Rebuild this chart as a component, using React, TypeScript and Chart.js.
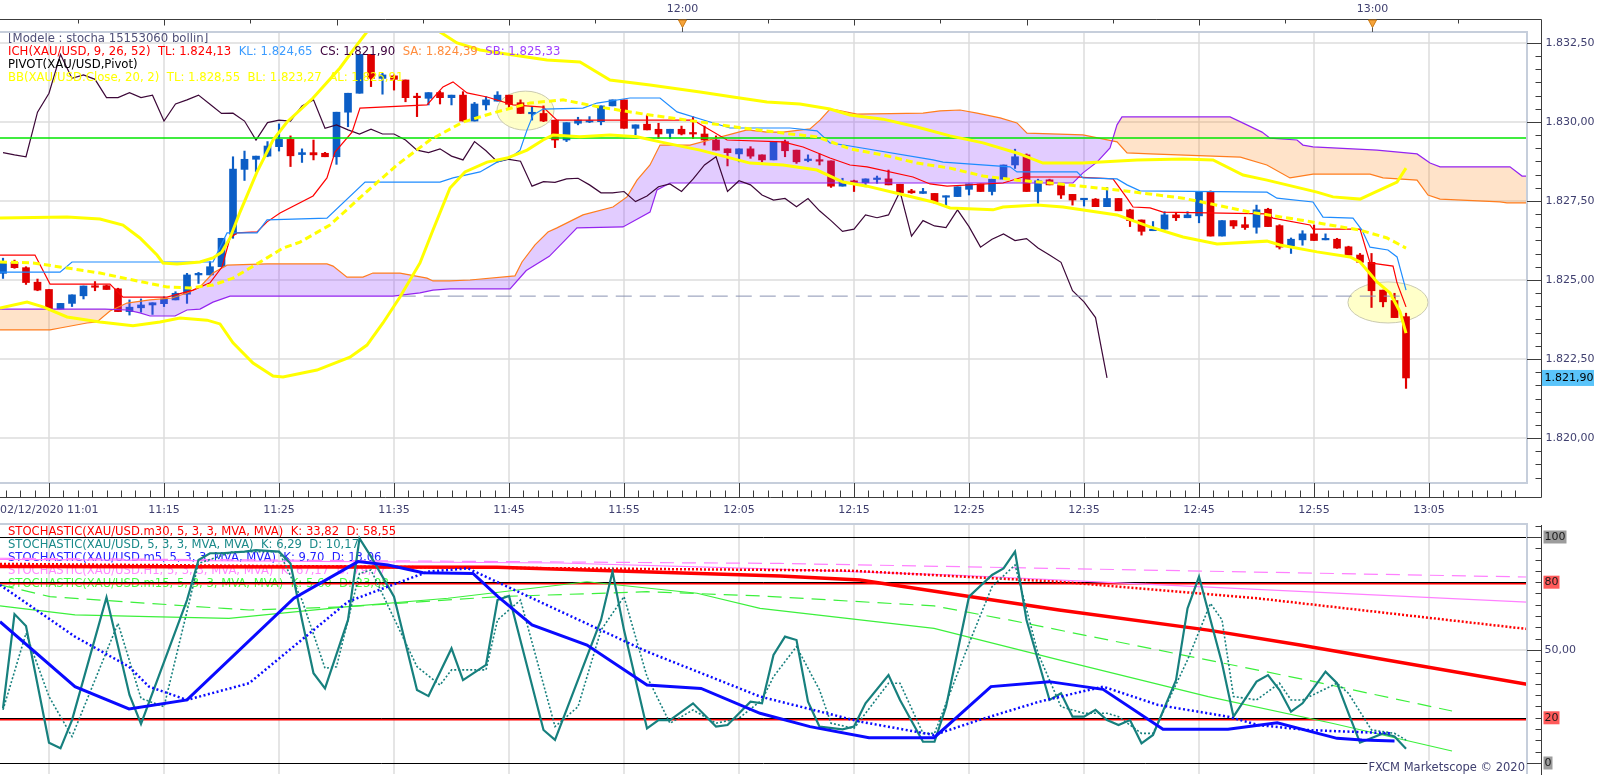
import React, { useEffect, useRef } from "react";
import { Chart, registerables } from "chart.js";

Chart.register(...registerables);

// ================= PRICE PANEL DATA (XAU/USD, 1-minute, 02/12/2020 11:01 .. 13:03) =================
// minute index 1 = 11:01
const opens = [
  1825.21, 1825.56, 1825.39, 1824.93, 1824.70, 1824.08, 1824.26, 1824.50, 1824.81, 1824.82,
  1824.72, 1824.00, 1824.12, 1824.21, 1824.25, 1824.37, 1824.55, 1825.16, 1825.16, 1825.42,
  1826.45, 1828.50, 1828.82, 1828.92, 1829.22, 1829.45, 1828.97, 1829.03, 1829.01, 1828.90,
  1830.31, 1830.91, 1832.14, 1831.38, 1831.46, 1831.33, 1830.80, 1830.75, 1830.93, 1830.77,
  1830.85, 1830.03, 1830.54, 1830.66, 1830.85, 1830.61, 1830.26, 1830.27, 1830.06, 1829.43,
  1829.96, 1830.00, 1830.01, 1830.51, 1830.70, 1829.80, 1829.93, 1829.77, 1829.64, 1829.77,
  1829.66, 1829.62, 1829.43, 1829.15, 1828.99, 1829.15, 1828.96, 1828.80, 1829.38, 1829.11,
  1828.78, 1828.80, 1828.77, 1827.97, 1828.13, 1828.08, 1828.18, 1828.20, 1828.03, 1827.82,
  1827.74, 1827.74, 1827.62, 1827.64, 1827.87, 1828.04, 1827.80, 1828.19, 1828.64, 1828.96,
  1827.80, 1828.17, 1828.01, 1827.71, 1827.54, 1827.56, 1827.32, 1827.58, 1827.22, 1826.90,
  1826.56, 1826.61, 1827.06, 1826.97, 1827.03, 1827.80, 1826.39, 1826.88, 1826.75, 1826.67,
  1827.24, 1826.72, 1826.08, 1826.27, 1826.46, 1826.27, 1826.29, 1826.05, 1825.79, 1825.56,
  1824.68, 1824.35, 1823.84,
];
const highs = [
  1825.69, 1825.63, 1825.42, 1825.03, 1824.70, 1824.26, 1824.53, 1824.81, 1824.95, 1824.84,
  1824.74, 1824.37, 1824.40, 1824.28, 1824.47, 1824.63, 1825.21, 1825.24, 1825.58, 1826.32,
  1828.90, 1829.08, 1828.92, 1829.38, 1829.94, 1829.56, 1829.15, 1829.43, 1829.04, 1830.31,
  1830.91, 1832.14, 1832.14, 1831.54, 1831.49, 1831.33, 1830.91, 1830.93, 1830.98, 1830.85,
  1830.96, 1830.62, 1830.80, 1830.96, 1830.85, 1830.70, 1830.49, 1830.51, 1830.06, 1829.98,
  1830.15, 1830.17, 1830.51, 1830.70, 1830.70, 1829.91, 1830.22, 1829.96, 1829.77, 1829.87,
  1830.17, 1829.87, 1829.56, 1829.15, 1829.15, 1829.22, 1828.96, 1829.38, 1829.43, 1829.11,
  1828.96, 1828.99, 1828.77, 1828.22, 1828.16, 1828.20, 1828.29, 1828.48, 1828.03, 1827.87,
  1827.90, 1827.74, 1827.66, 1827.95, 1828.04, 1828.04, 1828.19, 1828.64, 1829.14, 1828.99,
  1828.19, 1828.19, 1828.01, 1827.71, 1827.58, 1827.58, 1827.93, 1827.58, 1827.24, 1826.90,
  1826.85, 1827.16, 1827.13, 1827.16, 1827.80, 1827.82, 1826.88, 1826.88, 1826.99, 1827.37,
  1827.27, 1826.75, 1826.33, 1826.56, 1826.74, 1826.46, 1826.32, 1826.07, 1825.84, 1825.84,
  1824.68, 1824.58, 1823.95,
];
const lows = [
  1825.05, 1825.37, 1824.86, 1824.66, 1824.05, 1824.08, 1824.16, 1824.40, 1824.66, 1824.70,
  1824.00, 1823.89, 1823.98, 1823.91, 1824.16, 1824.37, 1824.26, 1824.89, 1825.16, 1825.42,
  1826.32, 1828.15, 1828.43, 1828.90, 1829.08, 1828.59, 1828.72, 1828.80, 1828.90, 1828.66,
  1829.85, 1830.91, 1831.12, 1830.88, 1831.01, 1830.64, 1830.17, 1830.54, 1830.57, 1830.54,
  1830.03, 1830.03, 1830.38, 1830.66, 1830.45, 1830.27, 1830.06, 1830.01, 1829.19, 1829.38,
  1829.91, 1829.98, 1829.91, 1830.51, 1829.80, 1829.59, 1829.75, 1829.48, 1829.48, 1829.59,
  1829.48, 1829.27, 1829.11, 1828.61, 1828.74, 1828.85, 1828.74, 1828.80, 1828.90, 1828.69,
  1828.74, 1828.64, 1827.93, 1827.97, 1827.80, 1827.95, 1828.06, 1828.01, 1827.74, 1827.74,
  1827.74, 1827.43, 1827.34, 1827.64, 1827.69, 1827.80, 1827.69, 1828.19, 1828.53, 1827.80,
  1827.43, 1828.01, 1827.58, 1827.37, 1827.34, 1827.32, 1827.32, 1827.19, 1826.69, 1826.42,
  1826.56, 1826.61, 1826.88, 1826.97, 1826.81, 1826.39, 1826.39, 1826.63, 1826.60, 1826.48,
  1826.69, 1825.98, 1825.84, 1826.10, 1826.25, 1826.27, 1826.00, 1825.79, 1825.56, 1824.13,
  1824.15, 1823.81, 1821.57,
];
const closes = [
  1825.53, 1825.39, 1824.92, 1824.68, 1824.08, 1824.26, 1824.53, 1824.81, 1824.77, 1824.70,
  1824.00, 1824.14, 1824.21, 1824.28, 1824.40, 1824.58, 1825.16, 1825.21, 1825.42, 1826.32,
  1828.51, 1828.82, 1828.92, 1829.24, 1829.45, 1828.93, 1829.03, 1828.96, 1828.90, 1830.31,
  1830.91, 1832.14, 1831.38, 1831.49, 1831.35, 1830.77, 1830.77, 1830.93, 1830.77, 1830.85,
  1830.03, 1830.57, 1830.70, 1830.85, 1830.56, 1830.27, 1830.28, 1830.03, 1829.43, 1829.98,
  1830.06, 1830.03, 1830.51, 1830.70, 1829.80, 1829.91, 1829.75, 1829.62, 1829.77, 1829.62,
  1829.62, 1829.43, 1829.11, 1829.03, 1829.15, 1828.92, 1828.80, 1829.38, 1829.09, 1828.74,
  1828.82, 1828.76, 1827.97, 1828.11, 1828.09, 1828.20, 1828.22, 1828.01, 1827.76, 1827.76,
  1827.80, 1827.48, 1827.66, 1827.95, 1828.04, 1827.80, 1828.19, 1828.64, 1828.90, 1827.80,
  1828.14, 1828.01, 1827.69, 1827.53, 1827.58, 1827.32, 1827.58, 1827.19, 1826.88, 1826.54,
  1826.61, 1827.06, 1826.97, 1827.06, 1827.80, 1826.39, 1826.88, 1826.71, 1826.66, 1827.22,
  1826.69, 1826.04, 1826.29, 1826.46, 1826.25, 1826.31, 1826.01, 1825.79, 1825.56, 1824.66,
  1824.31, 1823.81, 1821.90,
];

// Ichimoku (x in minutes since 11:00)
const tenkanM = [0.74, 3.78, 5.09, 10.3, 11.43, 15.26, 17.52, 19.0, 20.04, 20.74, 21.35, 23.09, 23.96, 25.09, 27.96, 29.17, 29.87, 31.35, 32.04, 37.87, 39.26, 40.13, 41.35, 43.09, 45.35, 47.96, 49.17, 61.0, 63.96, 68.83, 70.57, 72.91, 74.65, 76.13, 80.13, 81.61, 83.09, 87.96, 89.7, 94.39, 97.52, 98.74, 99.26, 100.74, 101.87, 110.91, 111.43, 114.65, 114.91, 119.0, 119.87, 121.87, 122.22, 123.0];
const tenkanP = [1825.79, 1825.79, 1824.87, 1824.87, 1824.46, 1824.46, 1824.68, 1824.91, 1825.41, 1826.33, 1826.49, 1826.52, 1826.84, 1827.12, 1827.66, 1828.23, 1829.05, 1829.68, 1830.44, 1830.54, 1831.11, 1831.27, 1830.92, 1830.79, 1830.54, 1830.47, 1830.06, 1830.06, 1829.43, 1829.37, 1829.21, 1828.86, 1828.64, 1828.58, 1828.26, 1828.04, 1827.97, 1828.07, 1828.26, 1828.26, 1828.2, 1827.59, 1827.31, 1827.28, 1827.15, 1827.09, 1826.96, 1826.74, 1826.61, 1826.61, 1825.54, 1825.44, 1824.91, 1824.15];
const kijunM = [0.74, 5.96, 7.0, 19.26, 20.48, 23.09, 23.96, 29.17, 32.48, 39.0, 40.13, 42.48, 43.96, 45.09, 45.96, 46.57, 47.09, 47.96, 51.43, 52.65, 55.52, 58.13, 59.61, 62.48, 64.22, 69.43, 71.78, 72.91, 74.65, 81.87, 82.74, 88.57, 89.17, 94.39, 94.91, 97.87, 98.74, 99.87, 110.91, 111.78, 114.91, 115.78, 118.39, 119.17, 119.87, 121.43, 122.22, 123.0];
const kijunP = [1825.25, 1825.25, 1825.57, 1825.57, 1826.49, 1826.49, 1826.9, 1826.96, 1828.1, 1828.1, 1828.23, 1828.42, 1828.73, 1828.86, 1829.11, 1829.75, 1830.22, 1830.41, 1830.44, 1830.6, 1830.76, 1830.76, 1830.32, 1830.0, 1829.81, 1829.81, 1829.72, 1829.34, 1829.24, 1828.8, 1828.73, 1828.58, 1828.42, 1828.42, 1828.23, 1828.2, 1828.01, 1827.82, 1827.78, 1827.59, 1827.47, 1826.99, 1826.96, 1826.58, 1826.04, 1825.95, 1825.73, 1824.68];
const senkouAM = [0.74, 5.09, 5.96, 8.3, 9.17, 10.3, 11.78, 13.78, 15.7, 17.0, 18.13, 19.26, 20.48, 23.96, 29.17, 29.7, 30.91, 32.3, 33.17, 35.52, 37.87, 38.39, 39.87, 41.61, 45.52, 46.13, 47.26, 48.39, 49.17, 51.43, 54.04, 55.26, 56.13, 57.26, 58.13, 60.74, 65.7, 67.43, 68.83, 71.17, 72.04, 72.91, 73.52, 75.26, 81.0, 82.48, 84.22, 85.7, 87.7, 89.17, 90.04, 94.91, 97.87, 98.74, 100.74, 108.6, 110.9, 112.91, 114.91, 119.87, 121.0, 123.96, 124.91, 125.96, 131.17, 131.78, 133.52];
const senkouAP = [1823.42, 1823.42, 1823.48, 1823.64, 1823.67, 1824.02, 1824.27, 1824.37, 1824.43, 1824.59, 1824.78, 1825.22, 1825.47, 1825.51, 1825.51, 1825.44, 1825.09, 1825.09, 1825.22, 1825.22, 1825.06, 1824.97, 1824.97, 1825.0, 1825.13, 1825.57, 1826.11, 1826.52, 1826.65, 1827.06, 1827.31, 1827.63, 1828.16, 1828.64, 1829.27, 1829.27, 1829.75, 1829.68, 1829.68, 1829.78, 1830.06, 1830.41, 1830.38, 1830.25, 1830.28, 1830.35, 1830.38, 1830.28, 1830.13, 1829.97, 1829.65, 1829.59, 1829.37, 1829.02, 1828.99, 1828.89, 1828.64, 1828.23, 1828.35, 1828.35, 1828.23, 1828.16, 1827.69, 1827.56, 1827.47, 1827.44, 1827.44];
const senkouBM = [0.74, 9.87, 11.78, 12.91, 13.78, 15.96, 17.0, 18.13, 19.26, 20.74, 34.91, 37.26, 38.39, 39.87, 45.09, 46.5, 48.5, 49.9, 50.91, 54.91, 57.26, 57.87, 59.0, 94.04, 94.91, 96.13, 97.26, 97.87, 98.3, 107.7, 110.48, 111.17, 113.52, 114.04, 114.91, 120.48, 123.96, 125.09, 125.96, 132.04, 133.09, 133.52];
const senkouBP = [1824.08, 1824.08, 1824.05, 1823.96, 1823.86, 1823.86, 1824.05, 1824.08, 1824.3, 1824.49, 1824.49, 1824.59, 1824.68, 1824.72, 1824.72, 1825.3, 1825.75, 1826.27, 1826.65, 1826.68, 1827.15, 1827.85, 1828.07, 1828.07, 1828.39, 1828.73, 1829.18, 1829.91, 1830.16, 1830.16, 1829.68, 1829.49, 1829.43, 1829.27, 1829.21, 1829.11, 1828.99, 1828.7, 1828.58, 1828.58, 1828.29, 1828.29];

// Bollinger (20, 2)
const bbUpM = [0.74, 6.57, 9.43, 11.43, 12.91, 14.39, 14.91, 16.13, 18.13, 19.26, 20.04, 20.74, 21.61, 23.09, 24.48, 25.7, 26.83, 27.96, 30.3, 31.78, 32.65, 34.22, 35.96, 37.26, 38.13, 39.0, 40.48, 42.48, 45.35, 48.3, 51.17, 53.78, 57.26, 61.61, 64.48, 67.43, 70.3, 72.91, 74.65, 77.52, 80.48, 83.35, 86.22, 89.17, 91.43, 94.91, 99.61, 103.61, 106.22, 108.83, 110.91, 115.26, 116.65, 119.0, 120.13, 122.22, 123.0];
const bbUpP = [1826.96, 1826.99, 1826.93, 1826.74, 1826.33, 1825.79, 1825.54, 1825.51, 1825.57, 1825.7, 1825.89, 1826.33, 1827.15, 1828.42, 1829.43, 1830.0, 1830.38, 1830.76, 1831.71, 1832.44, 1832.85, 1833.48, 1833.61, 1833.39, 1833.07, 1832.85, 1832.5, 1832.28, 1832.12, 1831.96, 1831.9, 1831.33, 1831.17, 1830.95, 1830.79, 1830.63, 1830.57, 1830.41, 1830.22, 1830.09, 1829.84, 1829.56, 1829.34, 1829.02, 1828.7, 1828.7, 1828.8, 1828.83, 1828.8, 1828.32, 1828.16, 1827.78, 1827.63, 1827.56, 1827.75, 1828.1, 1828.54];
const bbLowM = [0.74, 3.09, 4.48, 6.57, 9.43, 12.3, 14.65, 16.39, 18.74, 19.87, 21.0, 22.74, 24.48, 25.35, 28.3, 31.17, 32.65, 34.04, 35.52, 37.26, 38.39, 39.87, 41.17, 43.09, 44.83, 46.57, 47.96, 48.83, 51.17, 53.78, 56.13, 58.13, 61.61, 65.96, 68.83, 71.78, 74.04, 76.13, 79.0, 81.87, 83.35, 87.09, 87.96, 90.91, 93.17, 97.87, 100.74, 103.61, 106.57, 110.91, 112.04, 115.26, 118.13, 119.0, 120.48, 121.61, 122.48, 123.0];
const bbLowP = [1824.11, 1824.3, 1824.15, 1823.83, 1823.67, 1823.55, 1823.67, 1823.8, 1823.73, 1823.61, 1823.01, 1822.37, 1821.96, 1821.93, 1822.15, 1822.56, 1822.94, 1823.64, 1824.46, 1825.54, 1826.58, 1827.91, 1828.42, 1828.73, 1828.86, 1829.11, 1829.43, 1829.59, 1829.53, 1829.59, 1829.53, 1829.37, 1829.11, 1828.7, 1828.64, 1828.48, 1828.1, 1827.97, 1827.72, 1827.47, 1827.28, 1827.22, 1827.31, 1827.37, 1827.31, 1827.06, 1826.68, 1826.36, 1826.14, 1826.23, 1826.11, 1825.89, 1825.73, 1825.57, 1824.94, 1824.59, 1823.99, 1823.32];
const bbMidM = [0.74, 3.61, 6.57, 9.43, 12.3, 15.26, 17.26, 19.26, 21.0, 22.48, 23.96, 25.35, 26.83, 29.43, 32.3, 35.26, 38.13, 41.0, 43.96, 46.83, 49.7, 52.91, 57.26, 61.61, 65.35, 68.83, 71.78, 74.65, 77.52, 80.48, 83.35, 86.22, 89.17, 92.04, 97.87, 103.61, 109.43, 113.78, 119.0, 121.35, 123.0];
const bbMidP = [1825.57, 1825.54, 1825.38, 1825.22, 1825.0, 1824.78, 1824.75, 1824.84, 1825.06, 1825.38, 1825.7, 1826.01, 1826.2, 1826.74, 1827.69, 1828.64, 1829.43, 1830.0, 1830.32, 1830.6, 1830.7, 1830.47, 1830.22, 1830.0, 1829.81, 1829.65, 1829.53, 1829.15, 1828.96, 1828.7, 1828.54, 1828.29, 1828.16, 1828.07, 1827.85, 1827.59, 1827.15, 1826.9, 1826.58, 1826.33, 1826.01];

const pivotLevel = 1829.49;
const markLevel = 1824.49;
const markLevelFromM = 35.5;
const markLevelToM = 123;

// highlighted zones (centre minute / price, half-width in minutes / half-height in price)
const zoneM = [46.43, 121.43];
const zoneP = [1830.36, 1824.29];
const zoneHalfM = [2.48, 3.48];
const zoneHalfP = [0.617, 0.65];

// ================= STOCHASTIC PANEL DATA =================
const m1KM = [1, 2, 3, 5, 6, 7, 10, 12, 13, 17, 18, 19, 20, 22, 23, 25, 26, 27, 28, 29, 31, 32, 33, 35, 37, 38, 40, 41, 43, 44, 45, 48, 49, 53, 54, 55, 57, 58, 59, 61, 63, 64, 66, 67, 68, 69, 70, 71, 72, 74, 75, 76, 78, 79, 81, 82, 83, 85, 87, 88, 89, 90, 92, 93, 94, 95, 96, 97, 98, 99, 100, 101, 103, 104, 105, 107, 108, 110, 111, 112, 113, 114, 116, 117, 118, 119, 121, 122, 123];
const m1KV = [24.2, 65.9, 60.6, 9.0, 6.5, 19.0, 73.3, 30.1, 17.3, 72.1, 89.8, 92.8, 92.8, 93.5, 94.2, 93.5, 88.3, 63.3, 39.7, 33.0, 63.3, 99.4, 91.3, 73.6, 32.3, 29.6, 50.7, 36.7, 43.4, 72.1, 73.9, 14.6, 10.2, 63.3, 84.7, 58.8, 15.3, 19.0, 19.0, 26.4, 16.1, 16.8, 27.1, 26.4, 47.8, 55.9, 54.4, 27.1, 16.1, 14.9, 16.1, 26.4, 38.9, 27.9, 9.4, 9.4, 24.9, 73.6, 83.2, 86.1, 93.5, 63.3, 27.9, 30.8, 20.5, 20.5, 23.5, 19.0, 16.8, 19.0, 8.7, 12.4, 36.7, 68.4, 82.4, 44.1, 20.5, 36.0, 38.9, 32.3, 22.7, 26.4, 40.4, 35.3, 22.0, 9.0, 13.1, 11.7, 6.3];
const m1DM = [1, 3, 5, 7, 11, 13, 15, 18, 21, 25, 27, 29, 30, 32, 33, 37, 39, 40, 43, 44, 46, 49, 51, 53, 55, 57, 59, 61, 63, 65, 67, 68, 70, 72, 73, 75, 78, 79, 81, 82, 85, 87, 89, 91, 93, 95, 97, 98, 100, 101, 104, 106, 107, 108, 110, 112, 113, 114, 117, 118, 120, 121, 122, 123];
const m1DV = [23.5, 57.4, 29.4, 11.7, 61.8, 28.6, 24.9, 88.3, 93.5, 93.5, 72.1, 41.9, 42.6, 83.9, 85.4, 42.6, 34.5, 41.2, 41.2, 63.3, 72.1, 16.1, 24.9, 58.8, 73.6, 38.2, 17.6, 23.5, 17.6, 19.8, 27.9, 38.2, 51.5, 32.3, 17.6, 15.3, 35.3, 35.3, 13.1, 13.1, 52.9, 78.0, 87.6, 48.5, 24.9, 22.0, 22.0, 20.5, 13.1, 13.1, 45.6, 70.6, 63.3, 29.4, 27.9, 35.3, 27.9, 27.9, 35.3, 30.8, 14.6, 13.9, 13.1, 10.2];
const m5KM = [0.74, 7.26, 11.96, 17.0, 26.3, 31.87, 34.48, 37.52, 41.87, 44.04, 47.0, 51.78, 57.0, 61.7, 66.83, 71.17, 76.3, 81.96, 86.91, 91.96, 96.65, 101.87, 107.52, 111.8, 117.0, 119.17, 122.0];
const m5KV = [62.5, 33.8, 23.9, 27.9, 72.9, 89.1, 87.6, 84.2, 83.9, 73.6, 61.1, 52.2, 34.5, 33.0, 22.0, 16.1, 11.2, 11.2, 33.8, 36.0, 32.6, 14.9, 14.9, 17.8, 10.9, 10.2, 9.7];
const m5DM = [0.74, 7.26, 11.96, 13.7, 17.0, 22.4, 31.0, 37.96, 41.43, 57.0, 66.83, 75.52, 81.96, 85.87, 91.09, 96.65, 101.43, 107.52, 110.13, 114.39, 121.78];
const m5DV = [78.8, 55.9, 42.6, 33.8, 27.9, 35.3, 71.4, 84.7, 86.1, 49.3, 29.4, 18.3, 12.4, 19.0, 27.1, 33.8, 25.7, 20.5, 16.8, 14.6, 13.1];
const m30KM = [0.74, 43.96, 68.57, 75.52, 92.83, 105.8, 113.78, 133.52];
const m30KV = [86.9, 86.6, 82.7, 81.0, 67.7, 58.8, 52.2, 34.8];
const m30DM = [0.74, 68.57, 74.65, 92.83, 110.04, 133.52];
const m30DV = [88.1, 85.4, 85.1, 80.2, 72.9, 59.3];
const h1KM = [0.74, 49.43, 66.83, 83.26, 133.52];
const h1KV = [90.1, 88.5, 86.0, 83.2, 71.2];
const h1DM = [0.74, 68.57, 133.52];
const h1DV = [90.6, 88.3, 82.3];
const m15KM = [0.74, 7.26, 13.7, 20.65, 31.0, 39.7, 51.78, 61.35, 66.83, 81.96, 92.83, 105.8, 116.57, 127.0];
const m15KV = [69.5, 65.5, 64.8, 64.0, 69.2, 72.9, 80.2, 75.1, 68.4, 59.6, 45.6, 29.4, 17.6, 5.3];
const m15DM = [0.74, 5.09, 20.22, 22.4, 31.0, 44.04, 57.0, 66.83, 81.96, 88.48, 101.43, 114.39, 127.0];
const m15DV = [78.8, 73.6, 68.4, 67.7, 69.2, 73.6, 75.8, 73.9, 69.5, 63.3, 50.0, 36.7, 23.0];

// ================= AXES / LABELS =================
const xMin = 0.739;
const xMax = 133.52;
const priceMin = 1818.576;
const priceMax = 1832.848;
const stochMin = -4.87;
const stochMax = 105.75;

const gridMinutes = [5, 15, 25, 35, 45, 55, 65, 75, 85, 95, 105, 115, 125];
const timeLabelMinutes = [15, 25, 35, 45, 55, 65, 75, 85, 95, 105, 115, 125];
const timeLabels = ["11:15", "11:25", "11:35", "11:45", "11:55", "12:05", "12:15", "12:25", "12:35", "12:45", "12:55", "13:05"];
const firstTimeLabel = "02/12/2020 11:01";
const hourMarkMinutes = [60, 120];
const hourMarkLabels = ["12:00", "13:00"];
const priceTicks = [1820, 1822.5, 1825, 1827.5, 1830, 1832.5];
const priceTickLabels = ["1.820,00", "1.822,50", "1.825,00", "1.827,50", "1.830,00", "1.832,50"];
const lastPrice = 1821.9;
const lastPriceLabel = "1.821,90";
const stochTicks = [100, 80, 50, 20, 0];
const stochTickLabels = ["100", "80", "50,00", "20", "0"];

const topLegendTitle = "[Modele : stocha 15153060 bollin]";
const ichLegend = ["ICH(XAU/USD, 9, 26, 52)  TL: 1.824,13  ", "KL: 1.824,65  ", "CS: 1.821,90  ", "SA: 1.824,39  ", "SB: 1.825,33"];
const pivotLegend = "PIVOT(XAU/USD,Pivot)";
const bbLegend = "BB(XAU/USD.Close, 20, 2)  TL: 1.828,55  BL: 1.823,27  AL: 1.825,91";
const stochLegend = [
  "STOCHASTIC(XAU/USD.m30, 5, 3, 3, MVA, MVA)  K: 33,82  D: 58,55",
  "STOCHASTIC(XAU/USD, 5, 3, 3, MVA, MVA)  K: 6,29  D: 10,17",
  "STOCHASTIC(XAU/USD.m5, 5, 3, 3, MVA, MVA)  K: 9,70  D: 13,06",
  "STOCHASTIC(XAU/USD.H1, 5, 3, 3, MVA, MVA)  K: 67,17  D: 79,77",
  "STOCHASTIC(XAU/USD.m15, 5, 3, 3, MVA, MVA)  K: 5,60  D: 23,08",
];
const copyright = "FXCM Marketscope \u00A9 2020";

// ================= STYLES =================
const FONT = '"DejaVu Sans", "Liberation Sans", sans-serif';
const AXIS_TEXT = "#404070";
const GRID = "#dddddd";
const FRAME = "#c6cedb";
const AXIS_LINE = "#3c3c3c";
const UP = "#0c5ec6";
const DOWN = "#e00000";
const LAVENDER = "rgba(140,50,255,0.25)";
const PEACH = "rgba(255,140,30,0.24)";
const ichColors = ["#ff0000", "#3c9cff", "#3c003c", "#ff8c3c", "#a040ff"];
const stochLegendColors = ["#ff0000", "#1a8a8a", "#1e1eff", "#ff88ff", "#44ff44"];
const stochBoxColors = ["#9c9c9c", "#ff5a5a", "", "#ff5a5a", "#9c9c9c"];

const pts = (ms: number[], vs: number[]) => ms.map((m, i) => ({ x: m, y: vs[i] }));

const lineDs = (data: any[], color: string, width: number, order: number, extra: any = {}) => ({
  type: "line",
  data,
  borderColor: color,
  backgroundColor: color,
  borderWidth: width,
  pointRadius: 0,
  pointHoverRadius: 0,
  tension: 0,
  fill: false,
  borderCapStyle: "butt",
  order,
  ...extra,
});

function hLine(ctx: any, x1: number, x2: number, y: number) {
  ctx.beginPath();
  ctx.moveTo(x1, y);
  ctx.lineTo(x2, y);
  ctx.stroke();
}
function vLine(ctx: any, x: number, y1: number, y2: number) {
  ctx.beginPath();
  ctx.moveTo(x, y1);
  ctx.lineTo(x, y2);
  ctx.stroke();
}

// ---------------- price panel plugin ----------------
const pricePlugin = {
  id: "priceDecor",
  beforeDatasetsDraw(chart: any) {
    const { ctx, chartArea: a } = chart;
    const xs = chart.scales.x;
    const ys = chart.scales.y;
    ctx.save();
    ctx.beginPath();
    ctx.rect(a.left, a.top, a.right - a.left, a.bottom - a.top);
    ctx.clip();
    ctx.strokeStyle = GRID;
    ctx.lineWidth = 1.5;
    gridMinutes.forEach((m) => vLine(ctx, Math.round(xs.getPixelForValue(m)), a.top, a.bottom));
    priceTicks.forEach((p) => hLine(ctx, a.left, a.right, Math.round(ys.getPixelForValue(p))));
    for (let k = 0; k < zoneM.length; k++) {
      const cx = xs.getPixelForValue(zoneM[k]);
      const cy = ys.getPixelForValue(zoneP[k]);
      const rx = xs.getPixelForValue(zoneM[k] + zoneHalfM[k]) - cx;
      const ry = cy - ys.getPixelForValue(zoneP[k] + zoneHalfP[k]);
      ctx.beginPath();
      ctx.ellipse(cx, cy, rx, ry, 0, 0, Math.PI * 2);
      ctx.fillStyle = "rgba(255,255,195,0.9)";
      ctx.fill();
      ctx.strokeStyle = "#c9c9b0";
      ctx.lineWidth = 1;
      ctx.stroke();
    }
    ctx.restore();
  },
  afterDatasetsDraw(chart: any) {
    const { ctx, chartArea: a } = chart;
    ctx.save();
    ctx.font = `11.7px ${FONT}`;
    ctx.textBaseline = "middle";
    ctx.textAlign = "left";
    const x0 = a.left + 8;
    const y0 = a.top + 7;
    const lh = 13;
    ctx.fillStyle = "#505078";
    ctx.fillText(topLegendTitle, x0, y0);
    let cx = x0;
    ichLegend.forEach((t, i) => {
      ctx.fillStyle = ichColors[i];
      ctx.fillText(t, cx, y0 + lh);
      cx += ctx.measureText(t).width;
    });
    ctx.fillStyle = "#000000";
    ctx.fillText(pivotLegend, x0, y0 + lh * 2);
    ctx.fillStyle = "#ffff00";
    ctx.fillText(bbLegend, x0, y0 + lh * 3);
    ctx.restore();
  },
  afterDraw(chart: any) {
    const { ctx, chartArea: a } = chart;
    const xs = chart.scales.x;
    const ys = chart.scales.y;
    const AX = a.right + 14.5;
    const TOPY = a.top - 12.5;
    const BOTY = a.bottom + 14.5;
    ctx.save();
    // plot frame
    ctx.strokeStyle = FRAME;
    ctx.lineWidth = 2;
    ctx.beginPath();
    ctx.moveTo(a.left, a.top);
    ctx.lineTo(a.right, a.top);
    ctx.lineTo(a.right, a.bottom);
    ctx.lineTo(a.left, a.bottom);
    ctx.stroke();
    // axis frame
    ctx.strokeStyle = AXIS_LINE;
    ctx.lineWidth = 1;
    ctx.beginPath();
    ctx.moveTo(0, TOPY);
    ctx.lineTo(AX, TOPY);
    ctx.lineTo(AX, BOTY);
    ctx.lineTo(0, BOTY);
    ctx.stroke();
    // top ticks
    for (let m = 7.5; m < xMax; m += 7.5) {
      const px = Math.round(xs.getPixelForValue(m)) + 0.5;
      vLine(ctx, px, TOPY, TOPY + (m % 15 === 0 ? 6 : 4));
    }
    // bottom ticks
    for (let k = 1; k * 1.25 < xMax; k++) {
      const m = k * 1.25;
      const px = Math.round(xs.getPixelForValue(m)) + 0.5;
      const major = (m - 5) % 10 === 0;
      vLine(ctx, px, major ? a.bottom : BOTY - 7, BOTY);
    }
    // right ticks
    for (let k = 0; k < 48; k++) {
      const p = 1817.5 + (k * 2.5) / 6;
      if (p < priceMin || p > priceMax) continue;
      const py = Math.round(ys.getPixelForValue(p)) + 0.5;
      if (k % 6 === 0) hLine(ctx, a.right, AX, py);
      else hLine(ctx, AX - 6, AX, py);
    }
    ctx.font = `11px ${FONT}`;
    ctx.textBaseline = "middle";
    ctx.fillStyle = AXIS_TEXT;
    ctx.textAlign = "left";
    priceTicks.forEach((p, i) => ctx.fillText(priceTickLabels[i], AX + 4, ys.getPixelForValue(p)));
    // last price tag
    const lp = ys.getPixelForValue(lastPrice);
    ctx.fillStyle = "#5ac4fa";
    ctx.fillRect(AX + 0.5, lp - 8, 52, 16);
    ctx.fillStyle = "#000000";
    ctx.fillText(lastPriceLabel, AX + 3, lp);
    // time labels
    ctx.fillStyle = AXIS_TEXT;
    ctx.textAlign = "left";
    ctx.fillText(firstTimeLabel, 0, BOTY + 13);
    ctx.textAlign = "center";
    timeLabelMinutes.forEach((m, i) => ctx.fillText(timeLabels[i], xs.getPixelForValue(m), BOTY + 13));
    // hour markers
    hourMarkMinutes.forEach((m, i) => {
      const px = Math.round(xs.getPixelForValue(m)) + 0.5;
      ctx.fillStyle = AXIS_TEXT;
      ctx.fillText(hourMarkLabels[i], px, TOPY - 10);
      ctx.fillStyle = "#f5a33a";
      ctx.strokeStyle = "#cc7a14";
      ctx.beginPath();
      ctx.moveTo(px - 4, TOPY + 0.5);
      ctx.lineTo(px + 4, TOPY + 0.5);
      ctx.lineTo(px, TOPY + 8);
      ctx.closePath();
      ctx.fill();
      ctx.stroke();
      ctx.strokeStyle = "#555555";
      vLine(ctx, px, TOPY + 8, a.top);
    });
    ctx.restore();
  },
};

// ---------------- stochastic panel plugin ----------------
const stochPlugin = {
  id: "stochDecor",
  beforeDatasetsDraw(chart: any) {
    const { ctx, chartArea: a } = chart;
    const xs = chart.scales.x;
    const ys = chart.scales.y;
    ctx.save();
    ctx.strokeStyle = GRID;
    ctx.lineWidth = 1.5;
    gridMinutes.forEach((m) => vLine(ctx, Math.round(xs.getPixelForValue(m)), a.top, a.bottom));
    hLine(ctx, a.left, a.right, Math.round(ys.getPixelForValue(50)));
    // legend
    ctx.font = `11.6px ${FONT}`;
    ctx.textBaseline = "middle";
    ctx.textAlign = "left";
    stochLegend.forEach((t, i) => {
      ctx.fillStyle = stochLegendColors[i];
      ctx.fillText(t, a.left + 8, a.top + 8 + i * 12.9);
    });
    // reference lines
    ctx.lineWidth = 1;
    ctx.strokeStyle = "#000000";
    hLine(ctx, a.left, a.right, Math.round(ys.getPixelForValue(100)) + 0.5);
    hLine(ctx, a.left, a.right, Math.round(ys.getPixelForValue(0)) + 0.5);
    [80, 20].forEach((v) => {
      const py = Math.round(ys.getPixelForValue(v));
      ctx.strokeStyle = "#ff0000";
      ctx.lineWidth = 2;
      hLine(ctx, a.left, a.right, py + 1.5);
      ctx.strokeStyle = "#000000";
      ctx.lineWidth = 1;
      hLine(ctx, a.left, a.right, py + 0.5);
    });
    ctx.restore();
  },
  afterDraw(chart: any) {
    const { ctx, chartArea: a } = chart;
    const ys = chart.scales.y;
    const AX = a.right + 14.5;
    ctx.save();
    ctx.strokeStyle = FRAME;
    ctx.lineWidth = 2;
    ctx.beginPath();
    ctx.moveTo(a.left, a.top);
    ctx.lineTo(a.right, a.top);
    ctx.lineTo(a.right, a.bottom);
    ctx.stroke();
    ctx.strokeStyle = AXIS_LINE;
    ctx.lineWidth = 1;
    vLine(ctx, AX, a.top + 1, a.bottom + 1);
    for (let v = -5; v <= 105; v += 5) {
      if (v < stochMin || v > stochMax) continue;
      const py = Math.round(ys.getPixelForValue(v)) + 0.5;
      if (v % 50 === 0) hLine(ctx, a.right, AX, py);
      else hLine(ctx, AX - 6, AX, py);
    }
    ctx.font = `11px ${FONT}`;
    ctx.textBaseline = "middle";
    ctx.textAlign = "left";
    stochTicks.forEach((v, i) => {
      const py = ys.getPixelForValue(v);
      const t = stochTickLabels[i];
      const w = ctx.measureText(t).width;
      if (stochBoxColors[i]) {
        ctx.fillStyle = stochBoxColors[i];
        ctx.fillRect(AX + 2, py - 6.5, w + 2, 13);
        ctx.fillStyle = "#1a1a1a";
      } else {
        ctx.fillStyle = AXIS_TEXT;
      }
      ctx.fillText(t, AX + 3, py);
    });
    // copyright
    ctx.font = `11.5px ${FONT}`;
    const cw = ctx.measureText(copyright).width;
    const cy = a.bottom - 6;
    ctx.fillStyle = "#ffffff";
    ctx.fillRect(a.right - cw - 3, cy - 7, cw + 2, 14);
    ctx.fillStyle = AXIS_TEXT;
    ctx.textAlign = "right";
    ctx.fillText(copyright, a.right - 2, cy);
    ctx.restore();
  },
};

function priceConfig(): any {
  const colors = opens.map((o, i) => (closes[i] >= o ? UP : DOWN));
  const chikou = closes.slice(26);
  const chikouM = chikou.map((_, j) => j + 1);
  return {
    type: "line",
    data: {
      datasets: [
        {
          type: "bar",
          data: opens.map((o, i) => ({ x: i + 1, y: [lows[i], highs[i]] })),
          backgroundColor: colors,
          barThickness: 1.5,
          grouped: false,
          minBarLength: 1,
          order: 31,
        },
        {
          type: "bar",
          data: opens.map((o, i) => ({ x: i + 1, y: [o, closes[i]] })),
          backgroundColor: colors,
          barThickness: 7,
          grouped: false,
          minBarLength: 1.5,
          order: 30,
        },
        lineDs(pts(senkouBM, senkouBP), "#9424f0", 1.2, 19),
        lineDs(pts(senkouAM, senkouAP), "#ff7d1e", 1.2, 20, {
          fill: { target: 2, above: LAVENDER, below: PEACH },
        }),
        lineDs(pts(chikouM, chikou), "#3c0838", 1.2, 12),
        lineDs(pts(tenkanM, tenkanP), "#ff0000", 1.2, 11),
        lineDs(pts(kijunM, kijunP), "#1e8cff", 1.2, 10),
        lineDs(pts([xMin, xMax], [pivotLevel, pivotLevel]), "#00e600", 1.5, 9),
        lineDs(pts([markLevelFromM, markLevelToM], [markLevel, markLevel]), "#8a92b2", 1, 9, { borderDash: [16, 8] }),
        lineDs(pts(bbMidM, bbMidP), "#ffff00", 3, 5, { borderDash: [7, 4] }),
        lineDs(pts(bbUpM, bbUpP), "#ffff00", 3, 4),
        lineDs(pts(bbLowM, bbLowP), "#ffff00", 3, 3),
      ],
    },
    options: {
      responsive: false,
      maintainAspectRatio: false,
      animation: false,
      events: [],
      layout: { padding: { left: 0, right: 72, top: 32, bottom: 37 } },
      plugins: { legend: { display: false }, tooltip: { enabled: false } },
      scales: {
        x: { type: "linear", min: xMin, max: xMax, display: false, offset: false },
        y: { type: "linear", min: priceMin, max: priceMax, display: false },
      },
    },
    plugins: [pricePlugin],
  };
}

function stochConfig(): any {
  return {
    type: "line",
    data: {
      datasets: [
        lineDs(pts(m5KM, m5KV), "#0a0aff", 3, 1),
        lineDs(pts(m5DM, m5DV), "#0a0aff", 2.5, 2, { borderDash: [2, 2.5] }),
        lineDs(pts(m1KM, m1KV), "#17807e", 2.2, 3),
        lineDs(pts(m1DM, m1DV), "#17807e", 1.6, 4, { borderDash: [2, 2] }),
        lineDs(pts(m30KM, m30KV), "#ff0000", 3.5, 5),
        lineDs(pts(m30DM, m30DV), "#ff0000", 2.5, 6, { borderDash: [2, 2] }),
        lineDs(pts(m15KM, m15KV), "#3cf03c", 1.2, 7),
        lineDs(pts(m15DM, m15DV), "#3cf03c", 1.2, 8, { borderDash: [14, 8] }),
        lineDs(pts(h1KM, h1KV), "#ff80ff", 1.2, 9),
        lineDs(pts(h1DM, h1DV), "#ff80ff", 1.2, 10, { borderDash: [14, 8] }),
      ],
    },
    options: {
      responsive: false,
      maintainAspectRatio: false,
      animation: false,
      events: [],
      layout: { padding: { left: 0, right: 72, top: 4, bottom: 2 } },
      plugins: { legend: { display: false }, tooltip: { enabled: false } },
      scales: {
        x: { type: "linear", min: xMin, max: xMax, display: false, offset: false },
        y: { type: "linear", min: stochMin, max: stochMax, display: false },
      },
    },
    plugins: [stochPlugin],
  };
}

export default function App() {
  const topRef = useRef<HTMLCanvasElement>(null);
  const botRef = useRef<HTMLCanvasElement>(null);
  useEffect(() => {
    const c1 = new Chart(topRef.current as HTMLCanvasElement, priceConfig());
    const c2 = new Chart(botRef.current as HTMLCanvasElement, stochConfig());
    return () => {
      c1.destroy();
      c2.destroy();
    };
  }, []);
  return (
    <div style={{ position: "fixed", left: 0, top: 0, width: 1599, height: 776, background: "#ffffff", overflow: "hidden" }}>
      <canvas ref={topRef} width={1599} height={520} style={{ position: "absolute", left: 0, top: 0, width: 1599, height: 520 }} />
      <canvas ref={botRef} width={1599} height={256} style={{ position: "absolute", left: 0, top: 520, width: 1599, height: 256 }} />
    </div>
  );
}
